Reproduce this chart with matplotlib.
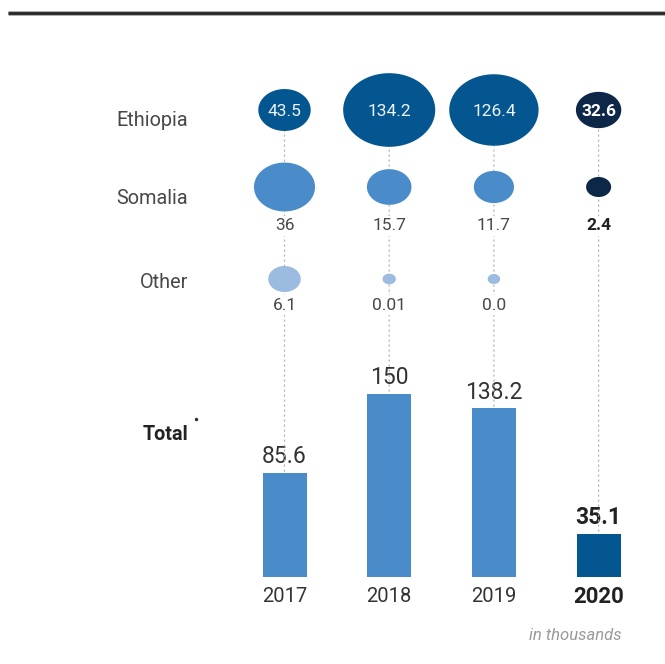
import numpy as np
import matplotlib
matplotlib.use("Agg")
import matplotlib.pyplot as plt
from matplotlib.path import Path
from matplotlib.patches import ConnectionPatch

plt.rcParams['font.family'] = ['Roboto', 'DejaVu Sans']

years = ['2017', '2018', '2019', '2020']
rows = ['Ethiopia', 'Somalia', 'Other']
ethiopia = [43.5, 134.2, 126.4, 32.6]
somalia = [36, 15.7, 11.7, 2.4]
other = [6.1, 0.01, 0.0]
totals = [85.6, 150, 138.2, 35.1]
somalia_lbl = ['36', '15.7', '11.7', '2.4']
other_lbl = ['6.1', '0.01', '0.0']

W, H = 665, 664
x0, step = 284.5, 104.7      # pixel centre of first column, column spacing
xl = (-x0 / step, (W - x0) / step)
def px(xp):
    return (xp - x0) / step

row_y = {'Ethiopia': 110, 'Somalia': 187, 'Other': 279}
lbl_y = {'Ethiopia': 120, 'Somalia': 198, 'Other': 282}

c_eth = '#03568f'
c_som = '#4a8cca'
c_oth = '#9bbbe1'
c_dark = '#0c2747'
txt = '#484848'

# flattened ellipse marker
t = np.linspace(0, 2 * np.pi, 80)
ell = Path(np.column_stack([np.cos(t), 0.8 * np.sin(t)]), closed=True)

def msize(w):
    # marker width in px -> scatter size
    return (np.asarray(w) * 72 / 100.0) ** 2

fig = plt.figure(figsize=(W / 100, H / 100), dpi=100)

axb = fig.add_axes([0, (H - 577) / H, 1, (577 - 394) / H])
axb.set_xlim(*xl)
axb.set_ylim(0, max(totals))
axb.axis('off')

ax = fig.add_axes([0, 0, 1, 1])
ax.set_xlim(*xl)
ax.set_ylim(H, 0)
ax.axis('off')
ax.patch.set_alpha(0)

xs = np.arange(len(years))

# bars
bar_cols = [c_som] * 3 + [c_eth]
axb.bar(xs, totals, width=44 / step, color=bar_cols, zorder=2)

# dotted guide lines
for i in xs:
    con = ConnectionPatch(xyA=(i, row_y['Ethiopia']), coordsA=ax.transData,
                          xyB=(i, totals[i]), coordsB=axb.transData,
                          color='#b4b4b4', lw=0.9, ls=(0, (1, 3)), zorder=1)
    ax.add_artist(con)

# bubbles
eth_w = 7.95 * np.sqrt(ethiopia)
som_w = 12.5 + 8.1 * np.sqrt(somalia)
oth_w = 12.5 + 8.1 * np.sqrt(other)
ax.scatter(xs, [row_y['Ethiopia']] * 4, s=msize(eth_w), marker=ell,
           c=[c_eth] * 3 + [c_dark], linewidths=0, zorder=3)
ax.scatter(xs, [row_y['Somalia']] * 4, s=msize(som_w), marker=ell,
           c=[c_som] * 3 + [c_dark], linewidths=0, zorder=3)
ax.scatter(xs[:3], [row_y['Other']] * 3, s=msize(oth_w), marker=ell,
           c=c_oth, linewidths=0, zorder=3)

wbox = dict(fc='white', ec='none', pad=1.5)

for i, v in enumerate(ethiopia):
    last = i == 3
    ax.text(i, row_y['Ethiopia'] + 1, f'{v}', ha='center', va='center',
            fontsize=12.5, color='white' if last else '#eef3f9',
            fontweight='bold' if last else 'normal', zorder=4)

for i, s in enumerate(somalia_lbl):
    last = i == 3
    ax.text(i, 226, s, ha='center', va='center', fontsize=12.5,
            color='#222222' if last else txt,
            fontweight='bold' if last else 'normal', bbox=wbox, zorder=4)

for i, s in enumerate(other_lbl):
    ax.text(i, 305, s, ha='center', va='center', fontsize=12.5,
            color=txt, fontweight='normal', bbox=wbox, zorder=4)

for i, v in enumerate(totals):
    last = i == 3
    axb.annotate(f'{v:g}', (i, v), xytext=(0, 7), textcoords='offset points',
                 ha='center', va='baseline', fontsize=16.5,
                 color='#222222' if last else '#333333',
                 fontweight='bold' if last else 'normal',
                 bbox=wbox, zorder=4)

for i, y in enumerate(years):
    last = i == 3
    ax.text(i, 597, y, ha='center', va='center',
            fontsize=16 if last else 14.5,
            fontweight='bold' if last else 'normal',
            color='#222222' if last else '#333333')

# row labels
for r in rows:
    ax.text(px(188), lbl_y[r], r, ha='right', va='center', fontsize=14.3, color=txt)
ax.text(px(188), 434, 'Total', ha='right', va='center', fontsize=14.2,
        fontweight='bold', color='#222222')
ax.plot([px(196)], [419], marker='o', ms=1.5, color='#333333', lw=0)

ax.text(px(622), 635, 'in thousands', ha='right', va='center', fontsize=12,
        style='italic', color='#9a9a9a')

# top rule
ax.plot([px(8), xl[1]], [13, 13], color='#9a9a9a', lw=3.3, solid_capstyle='butt', clip_on=False)
ax.plot([px(8), xl[1]], [13, 13], color='#222222', lw=1.9, solid_capstyle='butt', clip_on=False)

fig.savefig('out.png', dpi=100)
